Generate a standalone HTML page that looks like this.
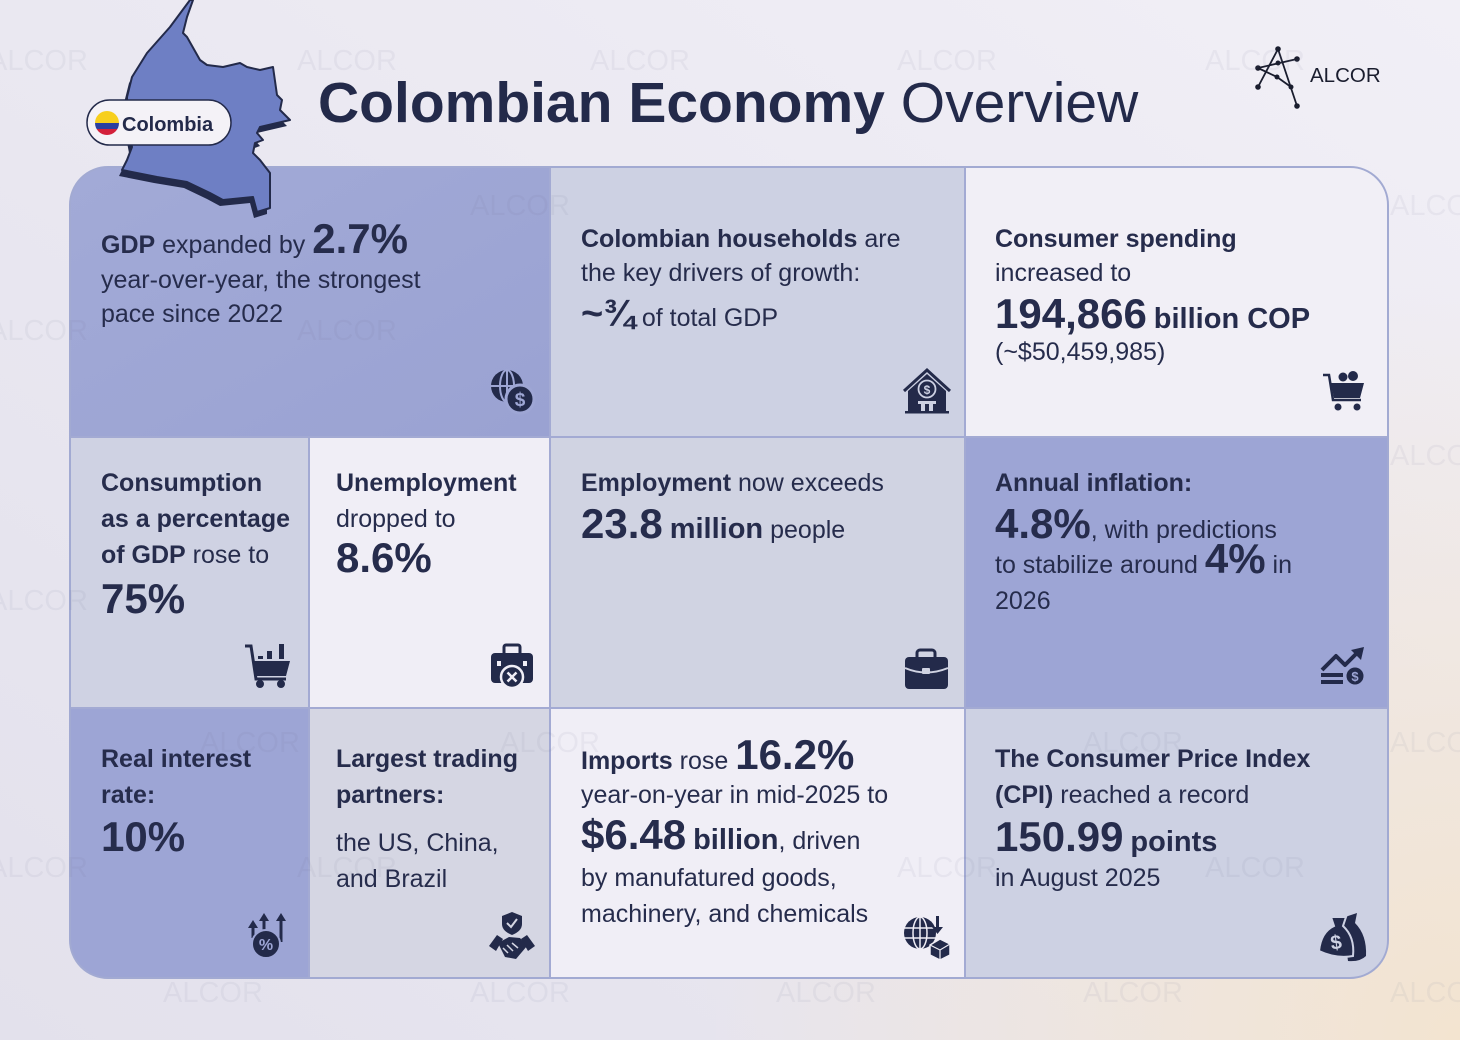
<!DOCTYPE html>
<html>
<head>
<meta charset="utf-8">
<style>
html,body{margin:0;padding:0;background:#ebe9f1;}
svg{display:block;}
text{font-family:"Liberation Sans", Arial, sans-serif;}
</style>
</head>
<body>
<svg width="1460" height="1040" viewBox="0 0 1460 1040" xmlns="http://www.w3.org/2000/svg">
<defs>
  <linearGradient id="bg" x1="0" y1="1" x2="1" y2="0">
    <stop offset="0" stop-color="#e3e1ec"/>
    <stop offset="1" stop-color="#f1eff6"/>
  </linearGradient>
  <radialGradient id="peach" cx="1460" cy="1040" r="760" gradientUnits="userSpaceOnUse">
    <stop offset="0" stop-color="#f3e4d0" stop-opacity="1"/>
    <stop offset="1" stop-color="#f3e4d0" stop-opacity="0"/>
  </radialGradient>
  <linearGradient id="purp" x1="0" y1="0" x2="1" y2="1">
    <stop offset="0" stop-color="#a2aad7"/>
    <stop offset="1" stop-color="#9aa2d2"/>
  </linearGradient>
  <clipPath id="box"><rect x="70" y="167" width="1318" height="811" rx="38" ry="38"/></clipPath>
  <clipPath id="flag"><circle cx="107" cy="123" r="12"/></clipPath>
</defs>

<!-- background -->
<rect width="1460" height="1040" fill="url(#bg)"/>
<rect width="1460" height="1040" fill="url(#peach)"/>

<!-- cells -->
<g clip-path="url(#box)">
  <rect x="70" y="167" width="480" height="270" fill="url(#purp)"/>
  <rect x="550" y="167" width="415" height="270" fill="#cdd1e3"/>
  <rect x="965" y="167" width="423" height="270" fill="#f1eff6"/>

  <rect x="70" y="437" width="239" height="271" fill="#cfd2e3"/>
  <rect x="309" y="437" width="241" height="271" fill="#f0eef6"/>
  <rect x="550" y="437" width="415" height="271" fill="#d0d3e2"/>
  <rect x="965" y="437" width="423" height="271" fill="#9da5d5"/>

  <rect x="70" y="708" width="239" height="270" fill="#9da5d5"/>
  <rect x="309" y="708" width="241" height="270" fill="#d5d6e3"/>
  <rect x="550" y="708" width="415" height="270" fill="#f0eef6"/>
  <rect x="965" y="708" width="423" height="270" fill="#cdd1e3"/>

  <g stroke="#a3aad3" stroke-width="2">
    <line x1="70" y1="437" x2="1388" y2="437"/>
    <line x1="70" y1="708" x2="1388" y2="708"/>
    <line x1="550" y1="167" x2="550" y2="978"/>
    <line x1="965" y1="167" x2="965" y2="978"/>
    <line x1="309" y1="437" x2="309" y2="978"/>
  </g>
</g>
<rect x="70" y="167" width="1318" height="811" rx="38" ry="38" fill="none" stroke="#a2aad2" stroke-width="2"/>

<!-- map of Colombia -->
<path d="M193 0 L187 17 L183 33 L187 37 L200 60 L207 65 L223 67 L240 63 L247 67 L260 70 L273 67 L277 95 L282 100 L280 110 L290 120 L260 127 L257 133 L263 140 L255 143 L253 153 L260 160 L270 173 L270 208 L257 212 L253 197 L223 200 L210 193 L187 182 L157 177 L122 170 L127 160 L132 147 L127 120 L127 97 L132 77 L147 53 L170 27 L190 0 Z" fill="#232a4a" transform="translate(-3,6)"/>
<path d="M193 0 L187 17 L183 33 L187 37 L200 60 L207 65 L223 67 L240 63 L247 67 L260 70 L273 67 L277 95 L282 100 L280 110 L290 120 L260 127 L257 133 L263 140 L255 143 L253 153 L260 160 L270 173 L270 208 L257 212 L253 197 L223 200 L210 193 L187 182 L157 177 L122 170 L127 160 L132 147 L127 120 L127 97 L132 77 L147 53 L170 27 L190 0 Z" fill="#6e7fc4" stroke="#232a4a" stroke-width="2" stroke-linejoin="round"/>

<!-- Colombia pill -->
<rect x="87" y="100" width="144" height="45" rx="22.5" fill="#f4f2f7" stroke="#232a4a" stroke-width="1.5"/>
<g clip-path="url(#flag)">
  <rect x="95" y="111" width="24" height="12" fill="#f7cf1d"/>
  <rect x="95" y="123" width="24" height="6" fill="#2b3fa0"/>
  <rect x="95" y="129" width="24" height="6" fill="#d3203a"/>
</g>
<text x="122" y="131" font-size="20" font-weight="700" fill="#232a4a">Colombia</text>

<!-- Title -->
<text x="318" y="122" font-size="57" fill="#232a4a"><tspan font-weight="700">Colombian Economy</tspan> Overview</text>

<!-- ALCOR logo -->
<g stroke="#1a1d2e" stroke-width="1.8" fill="none" stroke-linecap="round">
  <line x1="1278" y1="49" x2="1297" y2="106"/>
  <line x1="1278" y1="49" x2="1258" y2="87"/>
  <line x1="1258" y1="68" x2="1297" y2="59"/>
  <line x1="1258" y1="68" x2="1277" y2="77"/>
  <line x1="1277" y1="77" x2="1291" y2="87"/>
</g>
<g fill="#1a1d2e">
  <circle cx="1278" cy="49" r="2.8"/><circle cx="1297" cy="59" r="2.8"/><circle cx="1258" cy="68" r="2.8"/>
  <circle cx="1278" cy="63" r="2.5"/><circle cx="1277" cy="77" r="2.5"/><circle cx="1258" cy="87" r="2.8"/>
  <circle cx="1291" cy="87" r="2.5"/><circle cx="1297" cy="106" r="2.8"/>
</g>
<text x="1310" y="82" font-size="20.5" fill="#1a1d2e">ALCOR</text>

<!-- Text content -->
<g fill="#262c4c" font-size="25">
  <!-- row 1 -->
  <text x="101" y="253"><tspan font-weight="700">GDP</tspan> expanded by <tspan font-weight="700" font-size="42">2.7%</tspan></text>
  <text x="101" y="288">year-over-year, the strongest</text>
  <text x="101" y="322">pace since 2022</text>

  <text x="581" y="247"><tspan font-weight="700">Colombian households</tspan> are</text>
  <text x="581" y="281">the key drivers of growth:</text>
  <text x="581" y="326"><tspan font-weight="700" font-size="38">~¾</tspan> of total GDP</text>

  <text x="995" y="247" font-weight="700">Consumer spending</text>
  <text x="995" y="281">increased to</text>
  <text x="995" y="328"><tspan font-weight="700" font-size="42">194,866</tspan> <tspan font-weight="700" font-size="29">billion COP</tspan></text>
  <text x="995" y="360">(~$50,459,985)</text>

  <!-- row 2 -->
  <text x="101" y="491" font-weight="700">Consumption</text>
  <text x="101" y="527" font-weight="700">as a percentage</text>
  <text x="101" y="563"><tspan font-weight="700">of GDP</tspan> rose to</text>
  <text x="101" y="613" font-weight="700" font-size="42">75%</text>

  <text x="336" y="491" font-weight="700">Unemployment</text>
  <text x="336" y="527">dropped to</text>
  <text x="336" y="572" font-weight="700" font-size="42">8.6%</text>

  <text x="581" y="491"><tspan font-weight="700">Employment</tspan> now exceeds</text>
  <text x="581" y="538"><tspan font-weight="700" font-size="42">23.8</tspan> <tspan font-weight="700" font-size="29">million</tspan> people</text>

  <text x="995" y="491" font-weight="700">Annual inflation:</text>
  <text x="995" y="538"><tspan font-weight="700" font-size="42">4.8%</tspan>, with predictions</text>
  <text x="995" y="573">to stabilize around <tspan font-weight="700" font-size="42">4%</tspan> in</text>
  <text x="995" y="609">2026</text>

  <!-- row 3 -->
  <text x="101" y="767" font-weight="700">Real interest</text>
  <text x="101" y="803" font-weight="700">rate:</text>
  <text x="101" y="851" font-weight="700" font-size="42">10%</text>

  <text x="336" y="767" font-weight="700">Largest trading</text>
  <text x="336" y="803" font-weight="700">partners:</text>
  <text x="336" y="851">the US, China,</text>
  <text x="336" y="887">and Brazil</text>

  <text x="581" y="769"><tspan font-weight="700">Imports</tspan> rose <tspan font-weight="700" font-size="42">16.2%</tspan></text>
  <text x="581" y="803">year-on-year in mid-2025 to</text>
  <text x="581" y="849"><tspan font-weight="700" font-size="42">$6.48</tspan> <tspan font-weight="700" font-size="29">billion</tspan>, driven</text>
  <text x="581" y="886">by manufatured goods,</text>
  <text x="581" y="922">machinery, and chemicals</text>

  <text x="995" y="767" font-weight="700">The Consumer Price Index</text>
  <text x="995" y="803"><tspan font-weight="700">(CPI)</tspan> reached a record</text>
  <text x="995" y="851"><tspan font-weight="700" font-size="42">150.99</tspan> <tspan font-weight="700" font-size="29">points</tspan></text>
  <text x="995" y="886">in August 2025</text>
</g>

<!-- Icons -->
<!-- 1 globe dollar -->
<g>
  <circle cx="507" cy="386" r="16" fill="#232a4a"/>
  <g stroke="#9ea6d4" stroke-width="2" fill="none">
    <ellipse cx="507" cy="386" rx="7" ry="16"/>
    <line x1="491" y1="386" x2="523" y2="386"/>
    <line x1="507" y1="370" x2="507" y2="402"/>
  </g>
  <circle cx="520" cy="399" r="14" fill="#232a4a" stroke="#9ea6d4" stroke-width="3"/>
  <text x="520" y="406" font-size="19" font-weight="700" fill="#9ea6d4" text-anchor="middle">$</text>
</g>
<!-- 2 house -->
<g>
  <path d="M908 412 V391 L927 374 L946 391 V412 Z" fill="#232a4a"/>
  <polyline points="904,391 927,370 950,391" stroke="#232a4a" stroke-width="3" fill="none"/>
  <circle cx="927" cy="389" r="8.5" fill="none" stroke="#cdd1e3" stroke-width="1.8"/>
  <text x="927" y="394" font-size="12" font-weight="700" fill="#cdd1e3" text-anchor="middle">$</text>
  <rect x="918" y="401" width="18" height="3" fill="#cdd1e3"/>
  <rect x="921" y="404" width="12" height="8" fill="#cdd1e3"/>
  <rect x="925" y="404" width="4" height="8" fill="#232a4a"/>
  <rect x="905" y="411" width="44" height="2.5" fill="#232a4a"/>
</g>
<!-- 3 cart with people -->
<g>
  <polyline points="1323,375 1329,375 1333,400 1361,400" stroke="#232a4a" stroke-width="2.5" fill="none"/>
  <circle cx="1343" cy="377" r="4.5" fill="#232a4a"/>
  <circle cx="1353" cy="376" r="5" fill="#232a4a"/>
  <polygon points="1331,383 1364,383 1360,398 1334,398" fill="#232a4a"/>
  <circle cx="1338" cy="407" r="3.5" fill="#232a4a"/>
  <circle cx="1357" cy="407" r="3.5" fill="#232a4a"/>
</g>
<!-- 4 cart with bars -->
<g>
  <polyline points="245,646 251,646 256,679 286,679" stroke="#232a4a" stroke-width="3" fill="none"/>
  <polygon points="253,661 290,661 286,676 255,676" fill="#232a4a"/>
  <rect x="258" y="656" width="5" height="3" fill="#232a4a"/>
  <rect x="267" y="651" width="5" height="8" fill="#232a4a"/>
  <rect x="279" y="644" width="5" height="15" fill="#232a4a"/>
  <circle cx="260" cy="684" r="4" fill="#232a4a"/>
  <circle cx="281" cy="684" r="4" fill="#232a4a"/>
</g>
<!-- 5 briefcase x -->
<g>
  <rect x="504" y="645" width="16" height="10" rx="2" stroke="#232a4a" stroke-width="3" fill="none"/>
  <rect x="491" y="653" width="42" height="30" rx="4" fill="#232a4a"/>
  <rect x="497" y="661" width="4" height="5" fill="#f0eef6"/>
  <rect x="523" y="661" width="4" height="5" fill="#f0eef6"/>
  <circle cx="512" cy="677" r="11" fill="#232a4a" stroke="#f0eef6" stroke-width="2.5"/>
  <path d="M507.5 672.5 L516.5 681.5 M516.5 672.5 L507.5 681.5" stroke="#f0eef6" stroke-width="2.5"/>
</g>
<!-- 6 briefcase -->
<g>
  <rect x="917" y="650" width="18" height="10" rx="3" stroke="#232a4a" stroke-width="3" fill="none"/>
  <rect x="905" y="657" width="43" height="32" rx="4" fill="#232a4a"/>
  <path d="M905 668 Q926 677 948 668" stroke="#d0d3e2" stroke-width="2" fill="none"/>
  <rect x="922" y="668" width="8" height="6" rx="1" fill="#d0d3e2"/>
</g>
<!-- 7 chart -->
<g>
  <polyline points="1322,670 1336,656 1345,665 1357,653" stroke="#232a4a" stroke-width="4" fill="none" stroke-linejoin="round"/>
  <polygon points="1351,650 1364,647 1361,660" fill="#232a4a"/>
  <rect x="1321" y="673" width="22" height="4" fill="#232a4a"/>
  <rect x="1321" y="680" width="22" height="4" fill="#232a4a"/>
  <circle cx="1355" cy="676" r="9.5" fill="#232a4a" stroke="#9da5d5" stroke-width="2"/>
  <text x="1355" y="681" font-size="13" font-weight="700" fill="#9da5d5" text-anchor="middle">$</text>
</g>
<!-- 8 arrows % -->
<g fill="#232a4a">
  <rect x="251.5" y="926" width="3" height="12"/>
  <polygon points="248,928 253,920 258,928"/>
  <rect x="262.5" y="919" width="3" height="12"/>
  <polygon points="259,921 264,913 269,921"/>
  <rect x="279.5" y="918" width="3" height="24"/>
  <polygon points="276,921 281,913 286,921"/>
  <circle cx="266" cy="944" r="14" stroke="#9da5d5" stroke-width="2"/>
  <text x="266" y="950" font-size="16" font-weight="700" fill="#9da5d5" text-anchor="middle">%</text>
</g>
<!-- 9 handshake shield -->
<g fill="#232a4a">
  <path d="M512 912 L522 916 V924 Q522 931 512 935 Q502 931 502 924 V916 Z"/>
  <polyline points="507,923 511,927 517,919" stroke="#d5d6e3" stroke-width="2" fill="none"/>
  <polygon points="489,946 497,935 503,939 496,951"/>
  <polygon points="535,946 527,935 521,939 528,951"/>
  <polygon points="498,943 509,937 520,938 527,946 516,959 505,957"/>
  <path d="M503 948 L508 953 M507 945 L513 951 M512 943 L518 948" stroke="#d5d6e3" stroke-width="1.5"/>
</g>
<!-- 10 globe box -->
<g>
  <circle cx="920" cy="933" r="16" fill="#232a4a"/>
  <g stroke="#f0eef6" stroke-width="1.5" fill="none">
    <ellipse cx="920" cy="933" rx="7" ry="16"/>
    <line x1="904" y1="928" x2="936" y2="928"/>
    <line x1="904" y1="938" x2="936" y2="938"/>
    <line x1="920" y1="917" x2="920" y2="949"/>
  </g>
  <rect x="936" y="916" width="3" height="12" fill="#232a4a"/>
  <polygon points="932,927 937.5,934 943,927" fill="#232a4a"/>
  <polygon points="930,945 940,939 950,944 950,955 940,960 930,955" fill="#232a4a" stroke="#f0eef6" stroke-width="1.5"/>
  <path d="M930 945 L940 950 L950 944 M940 950 V960" stroke="#f0eef6" stroke-width="1.2" fill="none"/>
</g>
<!-- 11 money bags -->
<g>
  <path d="M1342 918 L1357 913 L1355 923 Q1367 935 1366 956 Q1360 962 1348 961 Z" fill="#232a4a"/>
  <path d="M1331 917 L1346 917 L1343 926 Q1355 937 1353 956 Q1336 959 1319 951 Q1321 932 1334 926 Z" fill="#232a4a" stroke="#cdd1e3" stroke-width="2"/>
  <text x="1336" y="949" font-size="20" font-weight="700" fill="#cdd1e3" text-anchor="middle" transform="rotate(-8 1336 942)">$</text>
</g>

<!-- faint watermarks -->
<g font-size="29" fill="#6b6f90" opacity="0.07">
  <text x="-12" y="70">ALCOR</text>
  <text x="297" y="70">ALCOR</text>
  <text x="590" y="70">ALCOR</text>
  <text x="897" y="70">ALCOR</text>
  <text x="1205" y="70">ALCOR</text>
  <text x="470" y="215">ALCOR</text>
  <text x="1390" y="215">ALCOR</text>
  <text x="-12" y="340">ALCOR</text>
  <text x="297" y="340">ALCOR</text>
  <text x="1390" y="465">ALCOR</text>
  <text x="-12" y="610">ALCOR</text>
  <text x="200" y="752">ALCOR</text>
  <text x="500" y="752">ALCOR</text>
  <text x="1083" y="752">ALCOR</text>
  <text x="1390" y="752">ALCOR</text>
  <text x="-12" y="877">ALCOR</text>
  <text x="297" y="877">ALCOR</text>
  <text x="897" y="877">ALCOR</text>
  <text x="1205" y="877">ALCOR</text>
  <text x="163" y="1002">ALCOR</text>
  <text x="470" y="1002">ALCOR</text>
  <text x="776" y="1002">ALCOR</text>
  <text x="1083" y="1002">ALCOR</text>
  <text x="1390" y="1002">ALCOR</text>
</g>
</svg>
</body>
</html>
